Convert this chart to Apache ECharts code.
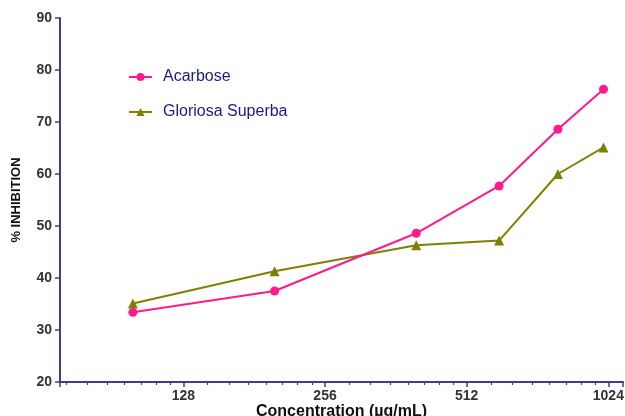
<!DOCTYPE html>
<html>
<head>
<meta charset="utf-8">
<script src="https://cdn.jsdelivr.net/npm/echarts@6/dist/echarts.min.js"></script>
<style>
  html, body { margin: 0; padding: 0; background: #fff; }
  #chart { width: 625px; height: 416px; }
</style>
</head>
<body>
<div id="chart"></div>
<script>
// Concentrations (µg/mL) and % inhibition for each sample
const concentrations = [100, 200, 400, 600, 800, 1000];
const acarbose = [33.4, 37.5, 48.6, 57.7, 68.6, 76.3];
const gloriosa = [35.1, 41.3, 46.3, 47.2, 60.0, 65.1];
const seriesNames = ['Acarbose', 'Gloriosa Superba'];
const xTickLabels = [128, 256, 512, 1024];

const axisColor = '#3b3f8c';
const fontFamily = 'Liberation Sans, Arial, sans-serif';
const labelFont = { color: '#333', fontWeight: 'bold', fontSize: 14, fontFamily: fontFamily };

const pairs = (ys) => concentrations.map((c, i) => [c, ys[i]]);

const chart = echarts.init(document.getElementById('chart'));
chart.setOption({
  animation: false,
  backgroundColor: '#fff',
  grid: { left: 60, right: 2, top: 18, bottom: 34, containLabel: false, outerBoundsMode: 'none' },
  legend: {
    orient: 'vertical',
    left: 128,
    top: 69,
    padding: 0,
    itemGap: 19,
    itemWidth: 23,
    itemHeight: 10,
    textStyle: { color: '#1a1a8c', fontSize: 16, fontFamily: fontFamily, padding: [0, 0, 0, 6] },
    data: seriesNames
  },
  xAxis: {
    type: 'log',
    logBase: 2,
    min: 70,
    max: 1100,
    name: 'Concentration (µg/mL)',
    nameLocation: 'middle',
    nameGap: 22,
    nameMoveOverlap: false,
    nameTextStyle: Object.assign({}, labelFont, { fontSize: 16, color: '#111' }),
    axisLine: { lineStyle: { color: axisColor, width: 2 } },
    axisTick: { show: true, inside: false, length: 5, lineStyle: { color: axisColor, width: 1.5 } },
    minorTick: { show: true, splitNumber: 8, length: 3, lineStyle: { color: axisColor, width: 1.2 } },
    axisLabel: Object.assign({}, labelFont, {
      margin: 7,
      showMinLabel: false,
      showMaxLabel: false,
      formatter: (v) => {
        const r = Math.round(v);
        return xTickLabels.indexOf(r) >= 0 ? String(r) : '';
      }
    }),
    splitLine: { show: false }
  },
  yAxis: {
    type: 'value',
    min: 20,
    max: 90,
    interval: 10,
    name: '% INHIBITION',
    nameLocation: 'middle',
    nameGap: 37,
    nameMoveOverlap: false,
    nameRotate: 90,
    nameTextStyle: Object.assign({}, labelFont, { fontSize: 13, color: '#111' }),
    axisLine: { show: true, lineStyle: { color: axisColor, width: 2 } },
    axisTick: { show: true, inside: false, length: 5, lineStyle: { color: axisColor, width: 1.5 } },
    axisLabel: Object.assign({}, labelFont, { margin: 8 }),
    splitLine: { show: false }
  },
  series: [
    {
      name: seriesNames[0],
      type: 'line',
      data: pairs(acarbose),
      symbol: 'circle',
      symbolSize: 9,
      color: '#ff1a8c',
      lineStyle: { width: 2 },
      z: 3
    },
    {
      name: seriesNames[1],
      type: 'line',
      data: pairs(gloriosa),
      symbol: 'triangle',
      symbolSize: 10,
      color: '#808000',
      lineStyle: { width: 2 },
      z: 2
    }
  ]
});
</script>
</body>
</html>
